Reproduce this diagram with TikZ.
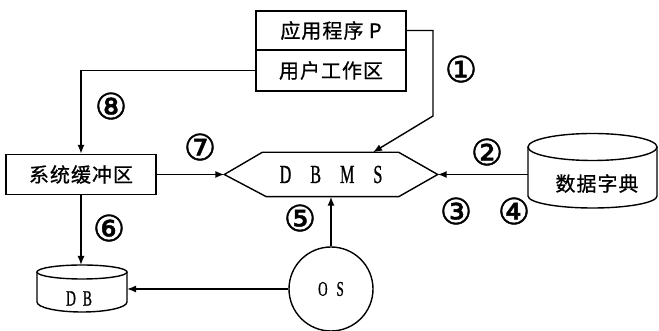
\documentclass[tikz,border=0pt]{standalone}
\usepackage{fontspec}
\setmainfont{Liberation Serif}
\newfontfamily\cjk[LetterSpace=5,FakeBold=0.8]{Noto Sans CJK SC}
\newfontfamily\narrowserif[FakeStretch=0.62,FakeBold=0.8]{Liberation Serif}
\newfontfamily\circnum[FakeBold=1.2]{DejaVu Sans}
\usetikzlibrary{arrows.meta,calc}

\begin{document}
\begin{tikzpicture}[x=1pt,y=1pt,line width=1.4pt,
  arr/.style={-{Latex[length=9pt,width=7pt]}},
  box/.style={draw,minimum width=150pt,inner sep=0pt,
    font=\cjk\fontsize{20}{20}\selectfont},
  plain/.style={inner sep=0pt},
  lab/.style={inner sep=0pt,font=\circnum\fontsize{36}{36}\selectfont}]
\useasboundingbox (0,0) rectangle (659,331);

% application program and its user work area
\node[box,minimum height=39pt] (prog) at (331,300.5) {应用程序 P};
\node[box,minimum height=41pt] (work) at (331,260.5) {用户工作区};

% system buffer
\node[box,minimum height=40pt] (buf) at (81,156.5) {系统缓冲区};

% DBMS hexagon
\node[plain,minimum width=212pt,minimum height=43pt,
  font=\narrowserif\fontsize{26}{26}\selectfont] (dbms) at (331,156.5)
  {D\hspace{19pt}B\hspace{19pt}M\hspace{19pt}S};
\draw (dbms.west) -- ($(dbms.north west)+(38,0)$) -- ($(dbms.north east)+(-39,0)$)
  -- (dbms.east) -- ($(dbms.south east)+(-39,0)$) -- ($(dbms.south west)+(42,0)$) -- cycle;

% data dictionary cylinder
\draw (528,184) -- (528,135) arc[start angle=180,end angle=360,x radius=64.5pt,y radius=12pt] -- (657,184);
\draw (592.5,184) ellipse[x radius=64.5pt,y radius=13.5pt];
\node[plain,font=\cjk\fontsize{20}{20}\selectfont] (dict) at (597,147.5) {数据字典};
\coordinate (dictleft) at (528,156.5);

% database cylinder
\draw (37,59) -- (37,29) arc[start angle=180,end angle=360,x radius=45pt,y radius=10pt] -- (127,59);
\draw (82,59) ellipse[x radius=45pt,y radius=7pt];
\node[plain,font=\narrowserif\fontsize{22}{22}\selectfont] (db) at (79,32.5) {D\hspace{7pt}B};
\coordinate (dbtop) at (81,66);
\coordinate (dbright) at (127,42);

% operating system
\node[draw,circle,minimum size=84pt,inner sep=0pt,
  font=\narrowserif\fontsize{21}{21}\selectfont] (os) at (331,42) {O\hspace{9pt}S};

% connectors
\coordinate (bend) at (433,215);
\draw[arr] (prog.east) -| (bend) -- ($(dbms.north)+(42,0)$);
\draw[arr] (work.west) -| (buf.north);
\draw[arr] (buf.east) -- (dbms.west);
\draw[arr] (dictleft) -- (dbms.east);
\draw[arr] (buf.south) -- (dbtop);
\draw[arr] (os.west) -- (dbright);
\draw[arr] (os.north) -- (os.north |- dbms.south);

% step numbers
\node[lab] (n1) at (461,262) {①};
\node[lab] (n2) at (487,179) {②};
\node[lab] (n3) at (456,120) {③};
\node[lab] (n4) at (514,120) {④};
\node[lab] (n5) at (300,113) {⑤};
\node[lab] (n6) at (109,103) {⑥};
\node[lab] (n7) at (200,184) {⑦};
\node[lab] (n8) at (111,225) {⑧};
\end{tikzpicture}
\end{document}
